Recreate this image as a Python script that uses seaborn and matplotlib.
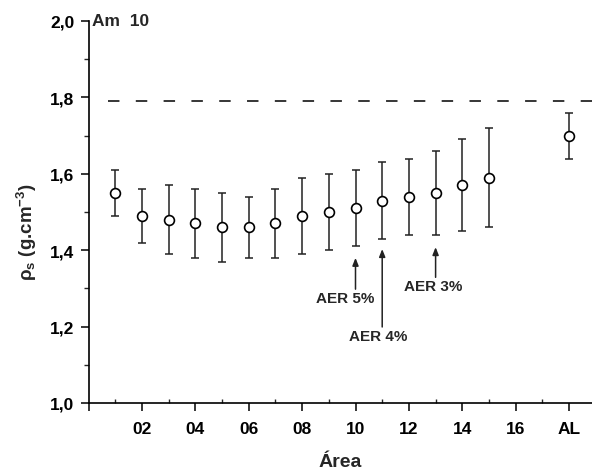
import matplotlib
matplotlib.use("Agg")
import matplotlib.pyplot as plt
import seaborn as sns
import pandas as pd
from matplotlib.ticker import FixedLocator, FuncFormatter

# Soil particle density by sampling area (mean with range bars)
areas = [1, 2, 3, 4, 5, 6, 7, 8, 9, 10, 11, 12, 13, 14, 15, 18]
means = [1.55, 1.49, 1.48, 1.47, 1.46, 1.46, 1.47, 1.49, 1.50, 1.51,
         1.53, 1.54, 1.55, 1.57, 1.59, 1.70]
upper = [1.61, 1.56, 1.57, 1.56, 1.55, 1.54, 1.56, 1.59, 1.60, 1.61,
         1.63, 1.64, 1.66, 1.69, 1.72, 1.76]
lower = [1.49, 1.42, 1.39, 1.38, 1.37, 1.38, 1.38, 1.39, 1.40, 1.41,
         1.43, 1.44, 1.44, 1.45, 1.46, 1.64]

tick_pos = [0, 2, 4, 6, 8, 10, 12, 14, 16, 18]
tick_labels = ["", "02", "04", "06", "08", "10", "12", "14", "16", "AL"]

ref_level = 1.79

notes = ["AER 5%", "AER 4%", "AER 3%"]
note_x = [10, 11, 13]
note_head = [1.38, 1.403, 1.408]
note_tail = [1.298, 1.199, 1.329]
note_text_x = [9.6, 10.84, 12.9]

df = pd.DataFrame({"area": areas, "mean": means, "upper": upper, "lower": lower})

sns.set_style("ticks")
plt.rcParams["font.family"] = ["Liberation Sans", "DejaVu Sans"]
plt.rcParams["font.weight"] = "bold"
plt.rcParams["mathtext.fontset"] = "custom"
plt.rcParams["mathtext.rm"] = "Liberation Sans:bold"
plt.rcParams["mathtext.it"] = "Liberation Sans:bold"
plt.rcParams["mathtext.bf"] = "Liberation Sans:bold"
plt.rcParams["mathtext.default"] = "bf"

fig = plt.figure(figsize=(5.92, 4.77), dpi=100)
ax = fig.add_axes([88.5 / 592, 73 / 477, (592 - 88.5) / 592, 382 / 477])

ax.errorbar(df["area"], df["mean"],
            yerr=[df["mean"] - df["lower"], df["upper"] - df["mean"]],
            fmt="none", ecolor="#222222", elinewidth=1.1, capsize=3.2,
            capthick=1.1, zorder=2)
sns.scatterplot(data=df, x="area", y="mean", ax=ax, marker="o", s=50,
                facecolor="white", edgecolor="black", linewidth=1.2,
                zorder=3, legend=False)

ax.plot([0.73, 18.9], [ref_level, ref_level], color="black", lw=1.1,
        dashes=(7.5, 10.7), zorder=1)

for label, x, yh, yt, tx in zip(notes, note_x, note_head, note_tail, note_text_x):
    ax.annotate("", xy=(x, yh), xytext=(x, yt),
                arrowprops=dict(arrowstyle="-|>,head_length=0.45,head_width=0.18",
                                color="#222222", lw=1.1, shrinkA=0, shrinkB=0))
    ax.text(tx, yt - 0.004, label, ha="center", va="top", fontsize=11,
            fontweight="bold")

ax.text(0.12, 2.0, "Am  10", ha="left", va="center", fontsize=12.5,
        fontweight="bold")

ax.set_xlim(0, (592 - 88.5) / 26.7)
ax.set_ylim(1.0, 2.0)
ax.xaxis.set_major_locator(FixedLocator(tick_pos))
ax.set_xticklabels(tick_labels)
ax.xaxis.set_minor_locator(FixedLocator([1, 3, 5, 7, 9, 11, 13, 15, 17]))
ax.yaxis.set_major_locator(FixedLocator([1.0, 1.2, 1.4, 1.6, 1.8, 2.0]))
ax.yaxis.set_minor_locator(FixedLocator([1.1, 1.3, 1.5, 1.7, 1.9]))
ax.yaxis.set_major_formatter(FuncFormatter(lambda v, p: f"{v:.1f}".replace(".", ",")))

ax.tick_params(axis="both", which="major", direction="out", length=6,
               width=1.1, labelsize=12.5, color="black", labelcolor="black")
ax.tick_params(axis="y", which="minor", direction="out", length=3.5, width=1.0)
ax.tick_params(axis="x", which="minor", direction="in", length=3, width=1.0)
ax.tick_params(axis="x", which="major", pad=7)
ax.tick_params(axis="y", which="major", pad=4)
for lab in ax.get_xticklabels() + ax.get_yticklabels():
    lab.set_fontweight("bold")

sns.despine(ax=ax, top=True, right=True)
for side in ["left", "bottom"]:
    ax.spines[side].set_linewidth(1.2)
    ax.spines[side].set_color("black")

ax.set_xlabel("Área", fontsize=14, fontweight="bold", labelpad=12)
ax.set_ylabel(r"$\rho_s$ (g.cm$^{-3}$)", fontsize=13.5, fontweight="bold")
ax.yaxis.set_label_coords(-0.098, 0.45)

fig.savefig("out.png", dpi=100)
